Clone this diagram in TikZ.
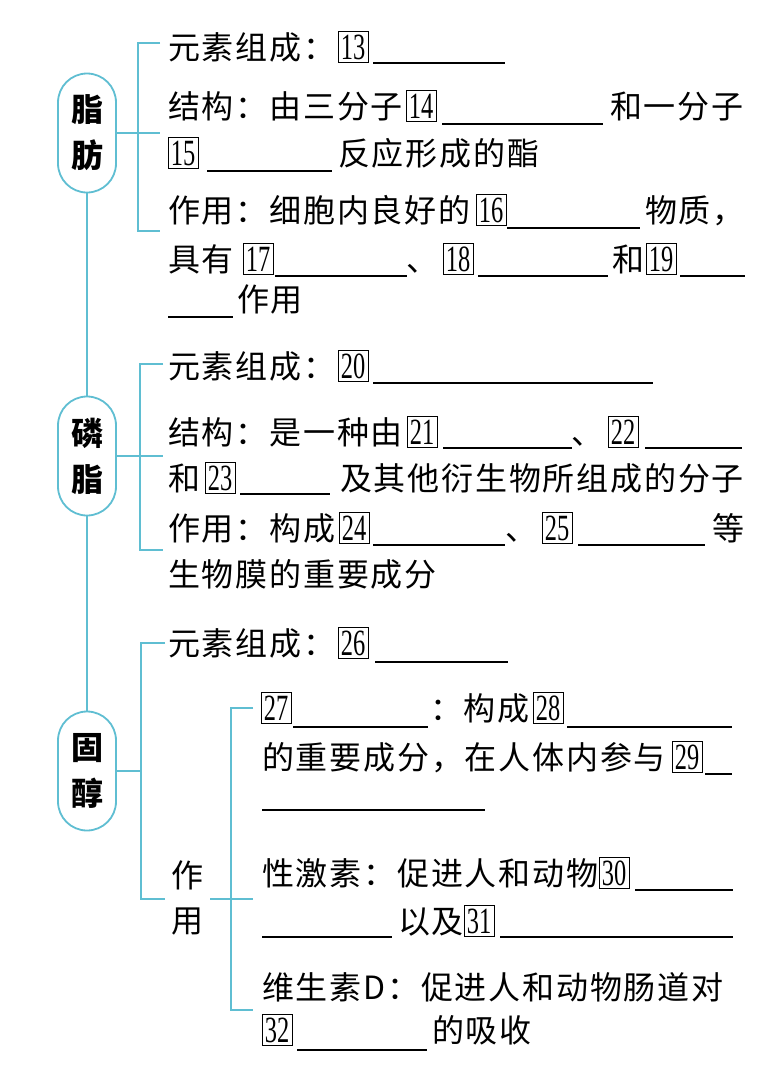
\documentclass[tikz,border=0pt]{standalone}
\usepackage{fontspec}
\usepackage{graphicx}
\newfontfamily\cjk[LetterSpace=5.6]{Noto Sans CJK SC}
\newfontfamily\cjkb{Noto Sans CJK SC}
\newfontfamily\numf{Liberation Serif}
\definecolor{tl}{RGB}{95,190,210}
\newcommand\bnum[1]{\numf\fontsize{37}{37}\selectfont\scalebox{0.66}[1]{#1}}
\begin{document}
\begin{tikzpicture}[x=1pt,y=-1pt,
  txt/.style={anchor=west,inner sep=0pt,text height=26pt,text depth=2pt,font={\cjk\fontsize{32}{32}\selectfont}},
  nb/.style={draw,line width=0.9pt,minimum width=30pt,minimum height=31pt,inner sep=0pt},
  ul/.style={line width=1.2pt},
  pill/.style={draw=tl,fill=white,line width=1.8pt,rounded corners=29pt,minimum width=58pt,minimum height=119pt,inner sep=0pt,align=center,font={\cjkb\bfseries\fontsize{32}{46}\selectfont}},
  br/.style={draw=tl,line width=1.8pt}]
\fill[white] (0,0) rectangle (784,1072);
\useasboundingbox (0,0) rectangle (784,1072);

% ---------- pills ----------
\node[pill] (p1) at (87,133) {脂\\肪};
\node[pill] (p2) at (87,456) {磷\\脂};
\node[pill] (p3) at (87,771) {固\\醇};
\draw[br] (p1.south) -- (p2.north);
\draw[br] (p2.south) -- (p3.north);

% ---------- brackets ----------
\coordinate (k1a) at (160,43);
\coordinate (k1b) at (160,231);
\coordinate (k1m) at (160,133);
\draw[br] (k1a) -- ++(-22,0) |- (k1b);
\draw[br] (p1.east) -- (k1m);

\coordinate (k2a) at (163,364);
\coordinate (k2b) at (163,550);
\coordinate (k2m) at (163,456);
\draw[br] (k2a) -- ++(-23,0) |- (k2b);
\draw[br] (p2.east) -- (k2m);

\coordinate (k3a) at (165,643);
\coordinate (k3b) at (165,899);
\coordinate (k3m) at (141,771);
\draw[br] (k3a) -- ++(-24,0) |- (k3b);
\draw[br] (p3.east) -- (k3m);

\node[inner sep=0pt,align=center,font={\cjkb\fontsize{32}{45}\selectfont}] (zy) at (187,898) {作\\用};
\coordinate (k4l) at (210,899);
\coordinate (k4r) at (253,899);
\coordinate (k4a) at (253,708);
\coordinate (k4b) at (253,1010);
\draw[br] (k4l) -- (k4r);
\draw[br] (k4a) -- ++(-22,0) |- (k4b);

% ---------- section 1 ----------
\node[txt] (a1) at (168,47) {元素组成：};
\node[nb] (b13) at (353,47) {\bnum{13}};
\draw[ul] (373,63) -- (505,63);

\node[txt] (b1) at (168,106) {结构：由三分子};
\node[nb] (b14) at (421,106) {\bnum{14}};
\draw[ul] (442,124) -- (603,124);
\node[txt] (b2) at (610,106) {和一分子};

\node[nb] (b15) at (183,153) {\bnum{15}};
\draw[ul] (207,171) -- (332,171);
\node[txt] (c1) at (338,153) {反应形成的酯};

\node[txt] (d1) at (168,210) {作用：细胞内良好的};
\node[nb] (b16) at (491,210) {\bnum{16}};
\draw[ul] (507,228) -- (640,228);
\node[txt] (d2) at (645,210) {物质，};

\node[txt] (e1) at (168,259) {具有};
\node[nb] (b17) at (258,259) {\bnum{17}};
\draw[ul] (275,276) -- (407,276);
\node[txt] (e2) at (406,259) {、};
\node[nb] (b18) at (458,259) {\bnum{18}};
\draw[ul] (478,276) -- (608,276);
\node[txt] (e3) at (612,259) {和};
\node[nb] (b19) at (661,259) {\bnum{19}};
\draw[ul] (680,276) -- (745,276);

\draw[ul] (168,317) -- (233,317);
\node[txt] (f1) at (237,299) {作用};

% ---------- section 2 ----------
\node[txt] (g1) at (168,366) {元素组成：};
\node[nb] (b20) at (353,366) {\bnum{20}};
\draw[ul] (373,383) -- (653,383);

\node[txt] (h1) at (168,432) {结构：是一种由};
\node[nb] (b21) at (422,432) {\bnum{21}};
\draw[ul] (443,448) -- (572,448);
\node[txt] (h2) at (571,432) {、};
\node[nb] (b22) at (623,432) {\bnum{22}};
\draw[ul] (645,448) -- (742,448);

\node[txt] (i1) at (168,478) {和};
\node[nb] (b23) at (220,478) {\bnum{23}};
\draw[ul] (240,494) -- (330,494);
\node[txt] (i2) at (340,478) {及其他衍生物所组成的分子};

\node[txt] (j1) at (168,528) {作用：构成};
\node[nb] (b24) at (354,528) {\bnum{24}};
\draw[ul] (373,545) -- (505,545);
\node[txt] (j2) at (505,528) {、};
\node[nb] (b25) at (557,528) {\bnum{25}};
\draw[ul] (578,545) -- (705,545);
\node[txt] (j3) at (712,528) {等};

\node[txt] (k1) at (168,574) {生物膜的重要成分};

% ---------- section 3 ----------
\node[txt] (l1) at (168,643) {元素组成：};
\node[nb] (b26) at (353,643) {\bnum{26}};
\draw[ul] (375,662) -- (508,662);

\node[nb] (b27) at (276,708) {\bnum{27}};
\draw[ul] (293,727) -- (428,727);
\node[txt] (m1) at (430,708) {：构成};
\node[nb] (b28) at (548,708) {\bnum{28}};
\draw[ul] (567,727) -- (732,727);

\node[txt] (n1) at (262,757) {的重要成分，在人体内参与};
\node[nb] (b29) at (687,757) {\bnum{29}};
\draw[ul] (705,774) -- (732,774);

\draw[ul] (262,810) -- (485,810);

\node[txt] (o1) at (262,873) {性激素：促进人和动物};
\node[nb] (b30) at (614,873) {\bnum{30}};
\draw[ul] (635,890) -- (733,890);

\draw[ul] (262,937) -- (392,937);
\node[txt] (q1) at (398,921) {以及};
\node[nb] (b31) at (479,921) {\bnum{31}};
\draw[ul] (500,937) -- (733,937);

\node[txt] (r1) at (262,987) {维生素D：促进人和动物肠道对};

\node[nb] (b32) at (277,1030) {\bnum{32}};
\draw[ul] (297,1050) -- (427,1050);
\node[txt] (s1) at (432,1030) {的吸收};
\end{tikzpicture}
\end{document}
